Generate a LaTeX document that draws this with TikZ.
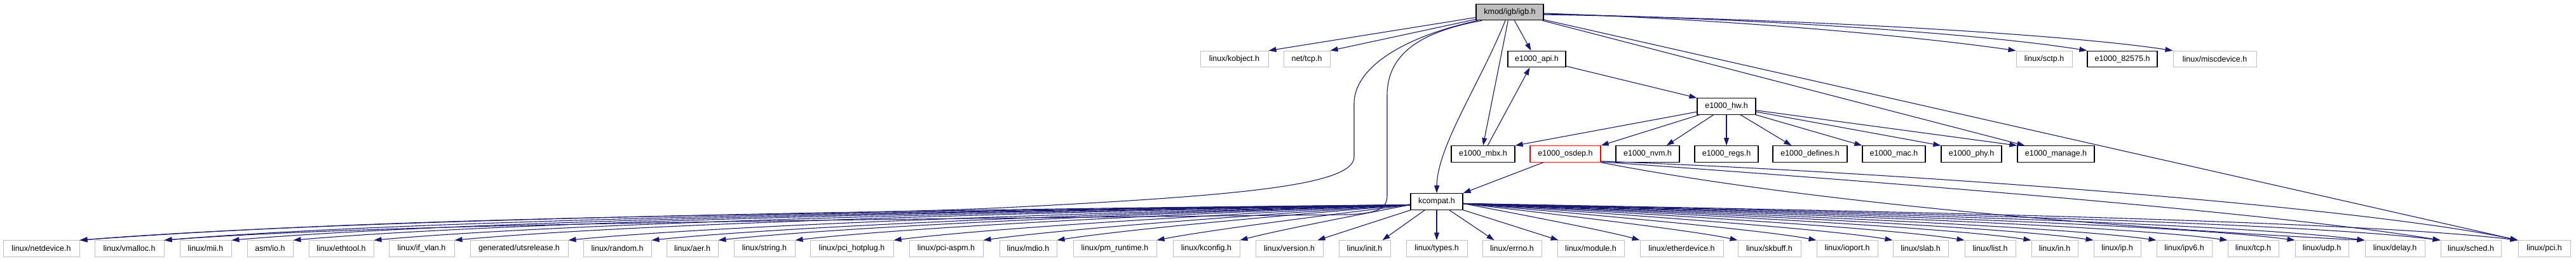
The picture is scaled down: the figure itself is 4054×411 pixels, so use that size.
\documentclass[tikz,border=0pt]{standalone}
\usepackage{fontspec}
\setmainfont{Liberation Sans}
\usetikzlibrary{arrows.meta,calc}
\definecolor{edgeblue}{RGB}{25,25,112}
\definecolor{grey75}{RGB}{191,191,191}
\begin{document}
\begin{tikzpicture}[x=1pt,y=-1pt,
  box/.style={rectangle, inner sep=0pt, minimum height=25.5pt, fill=white, text=black, font=\fontsize{12.5}{15}\selectfont},
  sys/.style={box, draw=grey75, line width=1pt},
  loc/.style={box, draw=black, line width=1.2pt},
  root/.style={box, draw=black, fill=grey75, line width=1.2pt},
  bad/.style={box, draw=red, line width=1.2pt},
  dep/.style={draw=edgeblue, line width=1.1pt, -{Triangle[length=12pt,width=8pt]}}
]
\useasboundingbox (0,0) rectangle (4054,411);
% top
\node[root, minimum width=106pt] (igb) at (2376,19) {kmod/igb/igb.h};
% row 2
\node[sys, minimum width=107pt] (kobject) at (1942.5,93) {linux/kobject.h};
\node[sys, minimum width=73pt] (nettcp) at (2056.5,93) {net/tcp.h};
\node[loc, minimum width=91pt] (api) at (2418.5,93) {e1000\_api.h};
\node[sys, minimum width=88pt] (sctp) at (3217,93) {linux/sctp.h};
\node[loc, minimum width=110pt] (e82575) at (3340,93) {e1000\_82575.h};
\node[sys, minimum width=131pt] (misc) at (3485.5,93) {linux/miscdevice.h};
% row 3
\node[loc, minimum width=92pt] (hw) at (2717,167.5) {e1000\_hw.h};
% row 4
\node[loc, minimum width=100pt] (mbx) at (2334,242.5) {e1000\_mbx.h};
\node[bad, minimum width=111pt] (osdep) at (2463.5,242.5) {e1000\_osdep.h};
\node[loc, minimum width=100pt] (nvm) at (2593,242.5) {e1000\_nvm.h};
\node[loc, minimum width=100pt] (regs) at (2717,242.5) {e1000\_regs.h};
\node[loc, minimum width=117pt] (defines) at (2848.5,242.5) {e1000\_defines.h};
\node[loc, minimum width=99pt] (mac) at (2980.5,242.5) {e1000\_mac.h};
\node[loc, minimum width=95pt] (phy) at (3102.5,242.5) {e1000\_phy.h};
\node[loc, minimum width=121pt] (manage) at (3235.5,242.5) {e1000\_manage.h};
% row 5
\node[loc, minimum width=82pt] (kc) at (2261,317.5) {kcompat.h};
% bottom row
\node[sys, minimum width=120pt] (netdevice) at (65,391.5) {linux/netdevice.h};
\node[sys, minimum width=109pt] (vmalloc) at (203.5,391.5) {linux/vmalloc.h};
\node[sys, minimum width=81pt] (mii) at (323.5,391.5) {linux/mii.h};
\node[sys, minimum width=72pt] (asmio) at (425,391.5) {asm/io.h};
\node[sys, minimum width=102pt] (ethtool) at (537,391.5) {linux/ethtool.h};
\node[sys, minimum width=103pt] (ifvlan) at (663.5,391.5) {linux/if\_vlan.h};
\node[sys, minimum width=154pt] (utsrelease) at (817,391.5) {generated/utsrelease.h};
\node[sys, minimum width=107pt] (random) at (971.5,391.5) {linux/random.h};
\node[sys, minimum width=81pt] (aer) at (1089.5,391.5) {linux/aer.h};
\node[sys, minimum width=96pt] (string) at (1203,391.5) {linux/string.h};
\node[sys, minimum width=131pt] (hotplug) at (1340.5,391.5) {linux/pci\_hotplug.h};
\node[sys, minimum width=116pt] (aspm) at (1489,391.5) {linux/pci-aspm.h};
\node[sys, minimum width=90pt] (mdio) at (1618,391.5) {linux/mdio.h};
\node[sys, minimum width=131pt] (pmrt) at (1754.5,391.5) {linux/pm\_runtime.h};
\node[sys, minimum width=105pt] (kconfig) at (1898.5,391.5) {linux/kconfig.h};
\node[sys, minimum width=106pt] (version) at (2029,391.5) {linux/version.h};
\node[sys, minimum width=81pt] (init) at (2147.5,391.5) {linux/init.h};
\node[sys, minimum width=96pt] (types) at (2261,391.5) {linux/types.h};
\node[sys, minimum width=93pt] (errno) at (2379.5,391.5) {linux/errno.h};
\node[sys, minimum width=105pt] (module) at (2503.5,391.5) {linux/module.h};
\node[sys, minimum width=131pt] (etherdev) at (2646.5,391.5) {linux/etherdevice.h};
\node[sys, minimum width=99pt] (skbuff) at (2784.5,391.5) {linux/skbuff.h};
\node[sys, minimum width=96pt] (ioport) at (2907,391.5) {linux/ioport.h};
\node[sys, minimum width=87pt] (slab) at (3022.5,391.5) {linux/slab.h};
\node[sys, minimum width=80pt] (llist) at (3132,391.5) {linux/list.h};
\node[sys, minimum width=73pt] (lin) at (3233.5,391.5) {linux/in.h};
\node[sys, minimum width=74pt] (lip) at (3332,391.5) {linux/ip.h};
\node[sys, minimum width=87pt] (lipv6) at (3437.5,391.5) {linux/ipv6.h};
\node[sys, minimum width=80pt] (ltcp) at (3546,391.5) {linux/tcp.h};
\node[sys, minimum width=84pt] (ludp) at (3654,391.5) {linux/udp.h};
\node[sys, minimum width=94pt] (delay) at (3769,391.5) {linux/delay.h};
\node[sys, minimum width=95pt] (sched) at (3888.5,391.5) {linux/sched.h};
\node[sys, minimum width=82pt] (pci) at (4004,391.5) {linux/pci.h};

% ---- edges from igb.h
\draw[dep] (igb) -- (kobject.north east);
\draw[dep] (igb) -- (nettcp.north east);
\draw[dep] ([xshift=3pt]igb.south west) .. controls (2200,60) and (2131,110) .. (2131,163) -- (2131,247)
   .. controls (2131,292) and (1950,308) .. (1600,326) .. controls (1300,342) and (700,336) .. (netdevice.north east);
\draw[dep] ([xshift=10pt]igb.south west) .. controls (2235,50) and (2183,85) .. (2183,150) -- (2183,308)
   .. controls (2183,330) and (2165,336) .. (2120,338) .. controls (1300,346) and (600,352) .. (vmalloc.north east);
\draw[dep] ([xshift=-7pt]igb.south) .. controls (2330,130) and (2262,230) .. (kc.north);
\draw[dep] (igb) -- (mbx.north);
\draw[dep] (igb) -- ([xshift=-9pt]api.north);
\draw[dep] ([yshift=-2pt]igb.east) .. controls (2750,32) and (3020,58) .. (sctp.north west);
\draw[dep] ([yshift=-3pt]igb.east) .. controls (2800,30) and (3130,55) .. (e82575.north west);
\draw[dep] ([yshift=-4pt]igb.east) .. controls (2850,30) and (3260,55) .. (misc.north west);
\draw[dep] (igb) -- ([xshift=12pt]manage.north west);
\draw[dep] (igb) -- (pci.north west);
% ---- api, mbx, hw
\draw[dep] (mbx) -- ([xshift=-11pt]api.south);
\draw[dep] (api) -- (hw.north west);
\draw[dep] (hw) -- (mbx.north east);
\draw[dep] (hw) -- (osdep.north east);
\draw[dep] (hw) -- ([xshift=-21pt]nvm.north east);
\draw[dep] (hw.south) -- (regs.north);
\draw[dep] (hw) -- ([xshift=30pt]defines.north west);
\draw[dep] (hw) -- (mac.north west);
\draw[dep] (hw) -- (phy.north west);
\draw[dep] (hw) -- (manage.north west);
% ---- osdep
\draw[dep] (osdep) -- (kc.north east);
\draw[dep] (osdep.south east) .. controls (2850,320) and (3350,360) .. (delay.north west);
\draw[dep] ([yshift=1pt]osdep.south east) .. controls (2900,282) and (3560,332) .. (sched.north west);
\draw[dep] ([yshift=2pt]osdep.south east) .. controls (3000,272) and (3720,326) .. (pci.north west);
% ---- kcompat
\draw[dep] (kc) -- ([xshift=-9pt]version.north east);
\draw[dep] (kc) -- ([xshift=-13pt]init.north east);
\draw[dep] (kc) -- (types.north);
\draw[dep] (kc) -- ([xshift=19pt]errno.north west);
\draw[dep] (kc) -- ([xshift=2pt]module.north west);
\foreach \tg in {etherdev,skbuff,ioport,slab,llist,lin,lip,lipv6,ltcp,ludp,delay,sched,pci}{
  \draw[dep] let \p1=([yshift=-3pt]kc.east), \p2=(\tg.north west), \n1={abs(\x2-\x1)} in
    (\p1) .. controls ($(\p1)!0.4!(\p2)+(0pt,{0.007*\n1})$) and ($(\p1)!0.85!(\p2)+(0pt,{0.013*\n1})$) .. (\p2);
}
\foreach \tg in {kconfig,pmrt,mdio,aspm,hotplug,string,aer,random,utsrelease,ifvlan,ethtool,asmio,mii,vmalloc,netdevice}{
  \draw[dep] let \p1=([yshift=-5pt]kc.west), \p2=(\tg.north east), \n1={abs(\x2-\x1)} in
    (\p1) .. controls ($(\p1)!0.35!(\p2)+(0pt,{0.006*\n1})$) and ($(\p1)!0.8!(\p2)+(0pt,{0.011*\n1})$) .. (\p2);
}
\end{tikzpicture}
\end{document}
